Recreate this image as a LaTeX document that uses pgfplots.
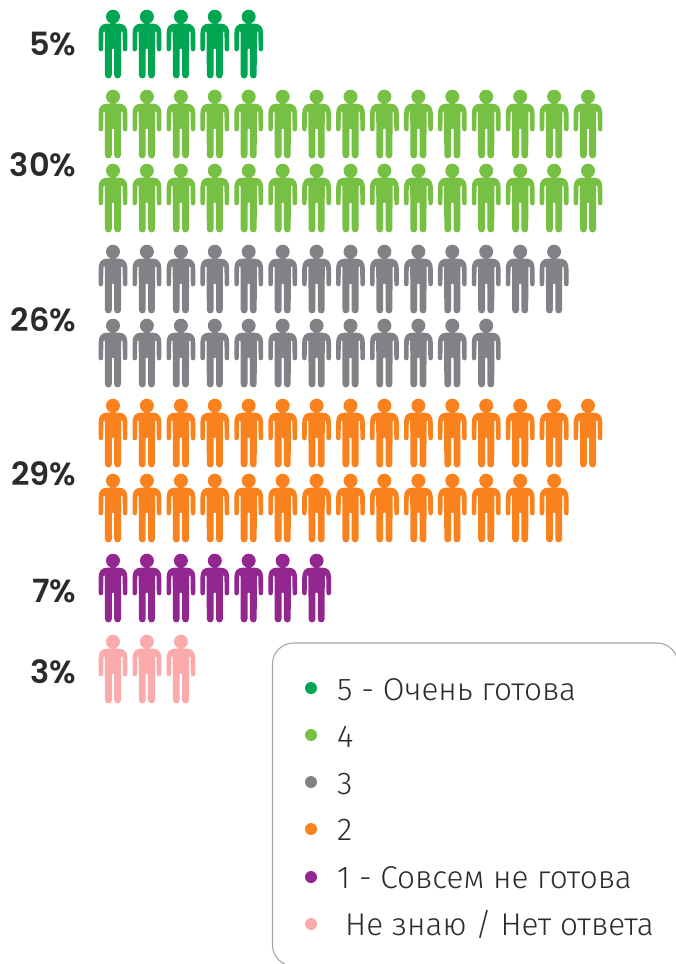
\documentclass[border=0pt]{standalone}
\usepackage{fontspec}
\usepackage{pgfplots}
\pgfplotsset{compat=1.18}
\setmainfont{Fira Sans}
\newfontfamily\lightf[UprightFont=* Light]{Fira Sans}
\newfontfamily\boldf{Poppins}[UprightFont=* SemiBold]
\definecolor{cA}{HTML}{00A651}
\definecolor{cB}{HTML}{76C043}
\definecolor{cC}{HTML}{808285}
\definecolor{cD}{HTML}{F9821E}
\definecolor{cE}{HTML}{92278F}
\definecolor{cF}{HTML}{FBABAC}
\definecolor{txt}{HTML}{2B2A2C}
\def\Mv(#1,#2){\pgfpathmoveto{\pgfqpoint{#1pt}{#2pt}}}
\def\Ln(#1,#2){\pgfpathlineto{\pgfqpoint{#1pt}{#2pt}}}
\def\Cv(#1,#2)(#3,#4)(#5,#6){\pgfpathcurveto{\pgfqpoint{#1pt}{#2pt}}{\pgfqpoint{#3pt}{#4pt}}{\pgfqpoint{#5pt}{#6pt}}}
\pgfdeclareplotmark{person}{%
  \pgfpathcircle{\pgfqpoint{0pt}{27.3pt}}{7pt}%
  \Mv(0,20.3)\Ln(6,20.3)
  \Cv(11.5,20.3)(14.4,17)(14.4,10.5)
  \Ln(14.4,-5)\Cv(14.4,-8.1)(9.9,-8.1)(9.9,-5)
  \Ln(9.6,11.5)\Cv(9.4,13.6)(8.3,13.6)(8.2,11.5)
  \Ln(8.0,-31)\Cv(8.0,-35.5)(1.2,-35.5)(1.2,-31)
  \Ln(1.2,-5.2)\Cv(1.2,-4.2)(-1.2,-4.2)(-1.2,-5.2)
  \Ln(-1.2,-31)\Cv(-1.2,-35.5)(-8.0,-35.5)(-8.0,-31)
  \Ln(-8.2,11.5)\Cv(-8.3,13.6)(-9.4,13.6)(-9.6,11.5)
  \Ln(-9.9,-5)\Cv(-9.9,-8.1)(-14.4,-8.1)(-14.4,-5)
  \Ln(-14.4,10.5)\Cv(-14.4,17)(-11.5,20.3)(-6,20.3)
  \pgfpathclose
  \pgfusepathqfill
}
\pgfdeclareplotmark{legdot}{%
  \pgfpathcircle{\pgfpointorigin}{6pt}%
  \pgfusepathqfill
}
\tikzset{
  person/.style={only marks,mark=person,mark options={fill=#1,draw=none}},
  dot/.style={only marks,mark=legdot,mark options={fill=#1,draw=none}},
  pct/.style={anchor=base east,font=\boldf\fontsize{32}{32}\selectfont,text=txt,inner sep=0pt},
  leg/.style={anchor=base west,font=\lightf\fontsize{31.5}{31.5}\selectfont,text=txt,inner sep=0pt},
}
\begin{document}
\begin{tikzpicture}[x=1pt,y=1pt]
\clip (0,0) rectangle (676,964);
\begin{axis}[
  at={(0,0)},anchor=south west,
  scale only axis,width=676pt,height=964pt,
  xmin=0,xmax=676,ymin=0,ymax=964,y dir=reverse,
  hide axis,clip=false,
]
% 5 - Очень готова : 5%
\addplot[person=cA] coordinates {(113,44)(146.9,44)(180.9,44)(214.8,44)(248.7,44)};
% 4 : 30%
\addplot[person=cB] coordinates {(113,124)(146.9,124)(180.9,124)(214.8,124)(248.7,124)(282.7,124)(316.6,124)(350.5,124)(384.4,124)(418.4,124)(452.3,124)(486.2,124)(520.2,124)(554.1,124)(588,124)
 (113,198)(146.9,198)(180.9,198)(214.8,198)(248.7,198)(282.7,198)(316.6,198)(350.5,198)(384.4,198)(418.4,198)(452.3,198)(486.2,198)(520.2,198)(554.1,198)(588,198)};
% 3 : 26%
\addplot[person=cC] coordinates {(113,279)(146.9,279)(180.9,279)(214.8,279)(248.7,279)(282.7,279)(316.6,279)(350.5,279)(384.4,279)(418.4,279)(452.3,279)(486.2,279)(520.2,279)(554.1,279)
 (113,353)(146.9,353)(180.9,353)(214.8,353)(248.7,353)(282.7,353)(316.6,353)(350.5,353)(384.4,353)(418.4,353)(452.3,353)(486.2,353)};
% 2 : 29%
\addplot[person=cD] coordinates {(113,433)(146.9,433)(180.9,433)(214.8,433)(248.7,433)(282.7,433)(316.6,433)(350.5,433)(384.4,433)(418.4,433)(452.3,433)(486.2,433)(520.2,433)(554.1,433)(588,433)
 (113,508)(146.9,508)(180.9,508)(214.8,508)(248.7,508)(282.7,508)(316.6,508)(350.5,508)(384.4,508)(418.4,508)(452.3,508)(486.2,508)(520.2,508)(554.1,508)};
% 1 : 7%
\addplot[person=cE] coordinates {(113,588)(146.9,588)(180.9,588)(214.8,588)(248.7,588)(282.7,588)(316.6,588)};
% Не знаю : 3%
\addplot[person=cF] coordinates {(113,669)(146.9,669)(180.9,669)};
% percentages
\node[pct] at (axis cs:76.5,55.5) {5\%};
\node[pct] at (axis cs:76.5,176) {30\%};
\node[pct] at (axis cs:76.5,331) {26\%};
\node[pct] at (axis cs:76.5,485) {29\%};
\node[pct] at (axis cs:76.5,602) {7\%};
\node[pct] at (axis cs:76.5,683) {3\%};
% legend
\draw[color=black!35,line width=1.1pt,rounded corners=21pt] (axis cs:272.5,800) -- (axis cs:272.5,643) -- (axis cs:678,643) -- (axis cs:678,800);
\draw[color=black!35,line width=1.1pt,rounded corners=21pt] (axis cs:272.5,800) -- (axis cs:272.5,966) -- (axis cs:678,966);
\addplot[dot=cA] coordinates {(311,688)};
\addplot[dot=cB] coordinates {(311,735)};
\addplot[dot=cC] coordinates {(311,782)};
\addplot[dot=cD] coordinates {(311,829)};
\addplot[dot=cE] coordinates {(311,877)};
\addplot[dot=cF] coordinates {(311,924)};
\node[leg] at (axis cs:337,700) {5 - Очень готова};
\node[leg] at (axis cs:337,747) {4};
\node[leg] at (axis cs:337,794) {3};
\node[leg] at (axis cs:337,840) {2};
\node[leg] at (axis cs:337,888) {1 - Совсем не готова};
\node[leg] at (axis cs:345,935) {Не знаю / Нет ответа};
\end{axis}
\end{tikzpicture}
\end{document}
